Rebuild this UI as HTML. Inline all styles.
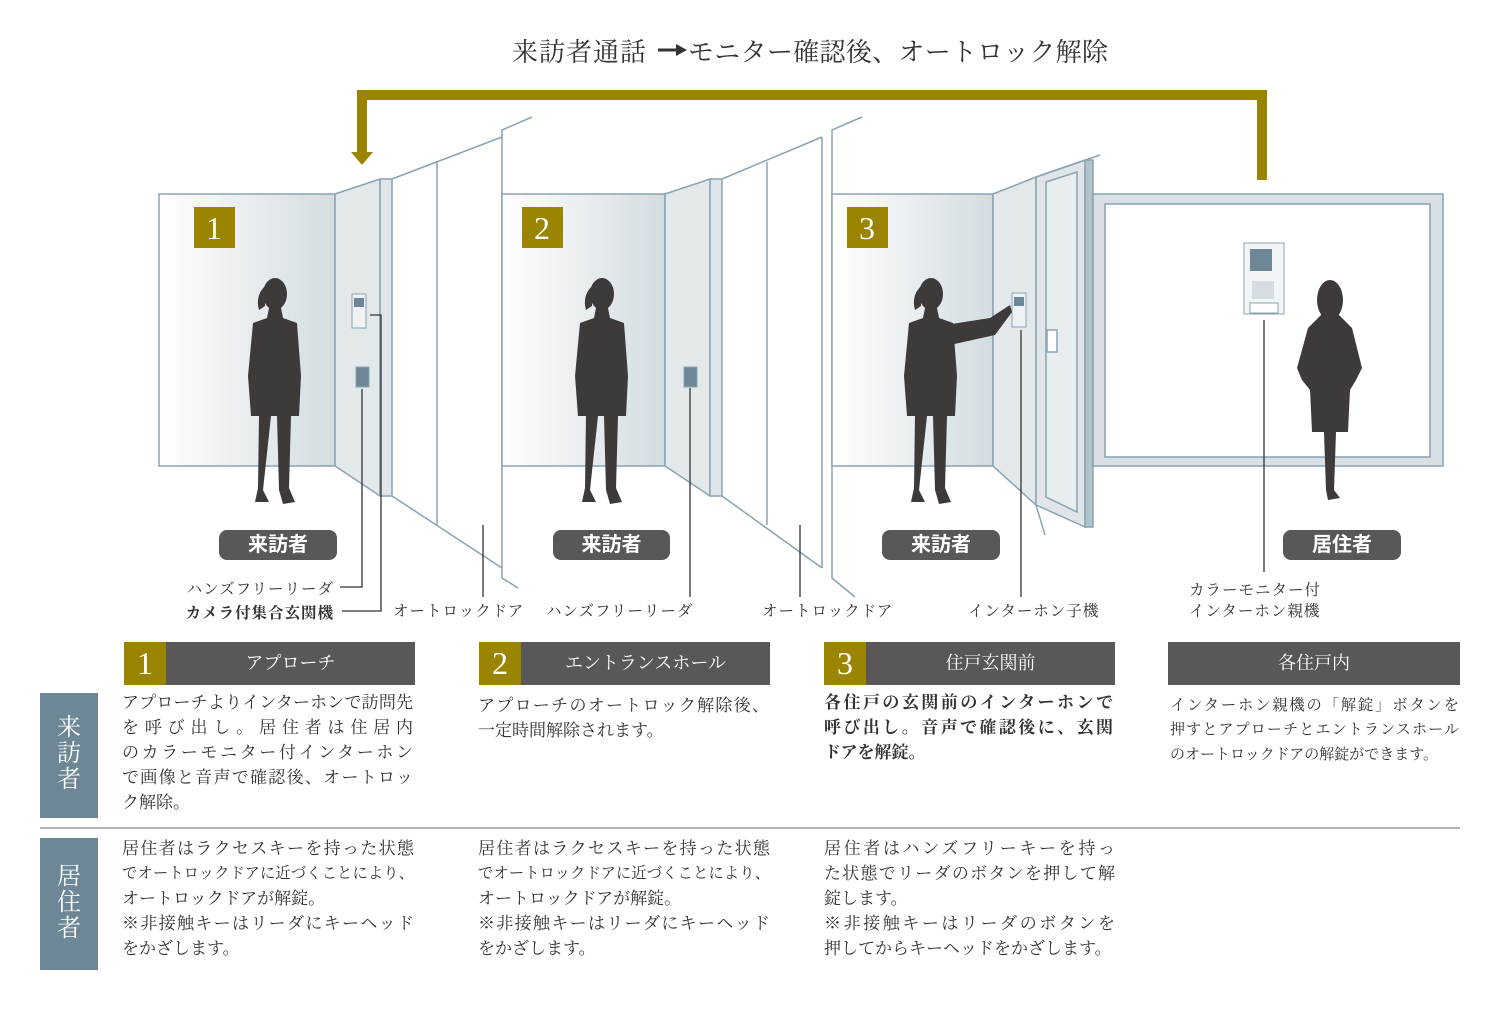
<!DOCTYPE html>
<html><head><meta charset="utf-8">
<style>
*{margin:0;padding:0}
body{width:1500px;height:1013px;background:#fff;position:relative;overflow:hidden;font-family:"Liberation Serif","Noto Serif CJK JP","Noto Serif CJK SC",serif;color:#333}
.t{position:absolute;font-size:17px;line-height:25px;white-space:nowrap}
.j{display:block;text-align:justify;text-align-last:justify}
.l{display:block}
.s{font-size:15.3px}
.lbl{position:absolute;font-size:15.5px;white-space:nowrap;color:#333;letter-spacing:1px}
.pill{position:absolute;height:30px;border-radius:8px;background:#595757;color:#fff;font-family:"Liberation Sans","Noto Sans CJK JP",sans-serif;font-weight:bold;font-size:20px;line-height:30px;text-align:center}
.hd{position:absolute;top:642px;height:43px;background:#595757;color:#fff;font-size:18px;line-height:43px;text-align:center}
.num{position:absolute;top:642px;width:42px;height:43px;background:#9a8400;color:#fff;font-size:32px;line-height:43px;text-align:center}
.side{position:absolute;left:40px;width:58px;background:#6e8796;color:#fff;font-size:24px;line-height:26px;text-align:center}
</style></head><body>
<svg width="1500" height="1013" style="position:absolute;left:0;top:0">
<defs>
<linearGradient id="g" x1="0" x2="1"><stop offset="0" stop-color="#fff"/><stop offset="1" stop-color="#d3dce1"/></linearGradient>
<g id="p"><ellipse cx="0" cy="18" rx="12" ry="16" fill="#3e3a39"/><path d="M-10 10 Q-20 20 -16 34 L-10 30 Z" fill="#3e3a39"/>
<path d="M-6 32 L6 32 L8 42 L22 47 L26 100 L24 140 L16 140 L14 212 L20 226 L8 228 L4 214 L2 140 L-4 140 L-12 214 L-6 226 L-20 226 L-17 212 L-16 140 L-24 140 L-27 100 L-22 47 L-8 42 Z" fill="#3e3a39"/></g>
</defs>
<g stroke="#8aa3b2" stroke-width="1.5" fill="none">
<rect x="159" y="194" width="176" height="272" fill="url(#g)"/>
<polygon points="335,194 380,179 380,496 335,466" fill="#e3e8eb"/>
<rect x="380" y="179" width="12" height="317" fill="#dfe5e9"/>
<polyline points="392,179 502,137"/><line x1="437" y1="162" x2="437" y2="525"/><line x1="392" y1="496" x2="502" y2="568"/>
<polyline points="532,117 502,130 502,578 518,588"/>
<rect x="502" y="194" width="163" height="272" fill="url(#g)"/>
<polygon points="665,194 710,179 710,496 665,466" fill="#e3e8eb"/>
<rect x="710" y="179" width="12" height="317" fill="#dfe5e9"/>
<polyline points="722,179 822,137"/><line x1="767" y1="162" x2="767" y2="525"/><line x1="722" y1="496" x2="822" y2="568"/>
<line x1="822" y1="137" x2="822" y2="568"/>
<polyline points="862,117 832,130 832,578 855,597"/>
<rect x="832" y="194" width="161" height="272" fill="url(#g)"/>
<polygon points="993,194 1036,177 1036,505 993,466" fill="#e3e8eb"/>
<polygon points="1036,177 1085,160 1085,527 1036,505" fill="#dfe5e9"/>
<polygon points="1046,182 1077,172 1077,512 1046,497" fill="#e8edf0"/>
<rect x="1085" y="160" width="8" height="367" fill="#b4c2cb"/>
<line x1="1036" y1="177" x2="1100" y2="155"/><line x1="1036" y1="505" x2="1045" y2="535"/>
<rect x="1047" y="330" width="10" height="22" fill="#fff"/>
<rect x="1093" y="194" width="350" height="272" fill="#d8e0e5"/>
<rect x="1105" y="204" width="325" height="253" fill="#fff"/>
</g>
<rect x="352" y="294" width="14" height="34" fill="#eef2f4" stroke="#8aa3b2"/><rect x="354" y="298" width="10" height="9" fill="#6e8796"/>
<rect x="356" y="367" width="13" height="20" fill="#6e8796" stroke="#8aa3b2"/>
<rect x="684" y="367" width="13" height="20" fill="#6e8796" stroke="#8aa3b2"/>
<rect x="1012" y="293" width="14" height="34" fill="#eef2f4" stroke="#8aa3b2"/><rect x="1014" y="297" width="10" height="9" fill="#6e8796"/>
<rect x="1244" y="243" width="40" height="71" fill="#f2f5f6" stroke="#8aa3b2"/><rect x="1250" y="249" width="22" height="22" fill="#6e8796"/>
<rect x="1252" y="281" width="22" height="18" fill="#d5dde2"/><rect x="1250" y="303" width="28" height="10" fill="#fff" stroke="#8aa3b2"/>
<use href="#p" transform="translate(275,276)"/>
<use href="#p" transform="translate(602,276)"/>
<use href="#p" transform="translate(931,276)"/>
<path d="M945 325 L990 318 L1010 305 L1012 312 L995 335 L950 345 Z" fill="#3e3a39"/>
<g transform="translate(1330,280)"><ellipse cx="0" cy="20" rx="13" ry="20" fill="#3e3a39"/><path d="M-8 34 L8 34 L22 48 L32 88 L26 100 L20 110 L18 152 L6 152 L4 210 L10 218 L-2 220 L-4 210 L-6 152 L-18 152 L-20 110 L-28 100 L-33 88 L-22 48 Z" fill="#3e3a39"/></g>
<polyline points="1262,180 1262,95 362,95 362,152" fill="none" stroke="#9a8400" stroke-width="10"/>
<polygon points="351,152 373,152 362,165" fill="#9a8400"/>
<g fill="#9a8400"><rect x="194" y="207" width="41" height="41"/><rect x="522" y="207" width="41" height="41"/><rect x="847" y="207" width="41" height="41"/></g>
<g fill="#fff" font-family="Liberation Serif,serif" font-size="32" text-anchor="middle"><text x="214" y="239">1</text><text x="542" y="239">2</text><text x="867" y="239">3</text></g>
<g stroke="#333" stroke-width="1.3" fill="none">
<polyline points="362,389 362,587 340,587"/><polyline points="370,315 381,315 381,611 342,611"/>
<line x1="483" y1="525" x2="483" y2="597"/><line x1="690" y1="388" x2="690" y2="597"/>
<line x1="800" y1="525" x2="800" y2="597"/><line x1="1021" y1="330" x2="1021" y2="597"/>
<line x1="1264" y1="320" x2="1264" y2="572"/>
</g>
<line x1="40" y1="828" x2="1460" y2="828" stroke="#999" stroke-width="1.5"/>
<line x1="658" y1="50" x2="678" y2="50" stroke="#333" stroke-width="3"/>
<polygon points="676,44 687,50 676,56" fill="#333"/>
</svg>
<div style="position:absolute;left:512px;top:32px;font-size:26px;letter-spacing:1px;color:#333;white-space:nowrap">来訪者通話</div>
<div style="position:absolute;left:688px;top:32px;font-size:26px;letter-spacing:0.3px;color:#333;white-space:nowrap">モニター確認後、オートロック解除</div>
<div class="pill" style="left:219px;top:530px;width:118px">来訪者</div>
<div class="pill" style="left:553px;top:530px;width:117px">来訪者</div>
<div class="pill" style="left:882px;top:530px;width:118px">来訪者</div>
<div class="pill" style="left:1283px;top:530px;width:118px">居住者</div>
<div class="lbl" style="right:1166px;top:577px">ハンズフリーリーダ</div>
<div class="lbl" style="right:1166px;top:601px;font-weight:bold">カメラ付集合玄関機</div>
<div class="lbl" style="left:393px;top:599px">オートロックドア</div>
<div class="lbl" style="left:546px;top:599px">ハンズフリーリーダ</div>
<div class="lbl" style="left:762px;top:599px">オートロックドア</div>
<div class="lbl" style="left:968px;top:599px">インターホン子機</div>
<div class="lbl" style="left:1189px;top:580px;line-height:21px">カラーモニター付<br>インターホン親機</div>
<div class="num" style="left:124px">1</div><div class="hd" style="left:166px;width:249px">アプローチ</div>
<div class="num" style="left:479px">2</div><div class="hd" style="left:521px;width:249px">エントランスホール</div>
<div class="num" style="left:824px">3</div><div class="hd" style="left:866px;width:249px">住戸玄関前</div>
<div class="hd" style="left:1168px;width:292px">各住戸内</div>
<div class="side" style="top:693px;height:125px;padding-top:22px;box-sizing:border-box">来<br>訪<br>者</div>
<div class="side" style="top:838px;height:132px;padding-top:26px;box-sizing:border-box">居<br>住<br>者</div>
<div class="t" style="left:122px;top:690px;width:291px"><span class="j">アプローチよりインターホンで訪問先</span><span class="j">を呼び出し。居住者は住居内</span><span class="j">のカラーモニター付インターホン</span><span class="j">で画像と音声で確認後、オートロッ</span><span class="l">ク解除。</span></div>
<div class="t" style="left:478px;top:693px;width:291px"><span class="j">アプローチのオートロック解除後、</span><span class="l">一定時間解除されます。</span></div>
<div class="t" style="left:824px;top:690px;width:289px;font-weight:bold"><span class="j">各住戸の玄関前のインターホンで</span><span class="j">呼び出し。音声で確認後に、玄関</span><span class="l">ドアを解錠。</span></div>
<div class="t" style="left:1170px;top:693px;width:289px"><span class="j s">インターホン親機の「解錠」ボタンを</span><span class="j s" style="font-size:15px">押すとアプローチとエントランスホール</span><span class="l s" style="font-size:15px">のオートロックドアの解錠ができます。</span></div>
<div class="t" style="left:122px;top:836px;width:292px"><span class="j">居住者はラクセスキーを持った状態</span><span class="j s">でオートロックドアに近づくことにより、</span><span class="l">オートロックドアが解錠。</span><span class="j">※非接触キーはリーダにキーヘッド</span><span class="l">をかざします。</span></div>
<div class="t" style="left:478px;top:836px;width:292px"><span class="j">居住者はラクセスキーを持った状態</span><span class="j s">でオートロックドアに近づくことにより、</span><span class="l">オートロックドアが解錠。</span><span class="j">※非接触キーはリーダにキーヘッド</span><span class="l">をかざします。</span></div>
<div class="t" style="left:824px;top:836px;width:291px"><span class="j">居住者はハンズフリーキーを持っ</span><span class="j">た状態でリーダのボタンを押して解</span><span class="l">錠します。</span><span class="j">※非接触キーはリーダのボタンを</span><span class="l">押してからキーヘッドをかざします。</span></div>
</body></html>
